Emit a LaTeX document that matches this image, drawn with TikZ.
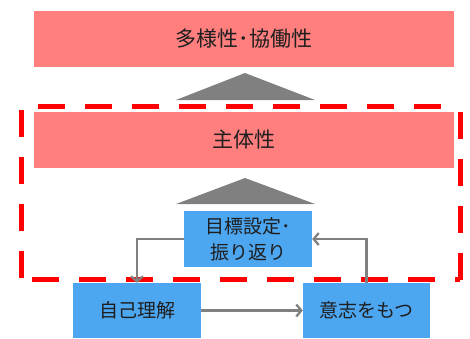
\documentclass[tikz,border=0pt]{standalone}
\usepackage{fontspec}
\setmainfont{Noto Sans CJK JP}
\usetikzlibrary{arrows.meta}
\definecolor{pinkred}{RGB}{255,127,127}
\definecolor{skyblue}{RGB}{77,166,240}
\definecolor{arrgrey}{RGB}{128,128,128}
\definecolor{txt}{RGB}{30,30,30}
\tikzset{
  redbox/.style={draw=none,fill=pinkred,minimum width=420pt,minimum height=56pt,inner sep=0pt,text=txt,font=\fontsize{21pt}{25pt}\selectfont},
  bluebox/.style={draw=none,fill=skyblue,minimum width=128pt,minimum height=55pt,inner sep=0pt,text=txt,align=center,font=\fontsize{19pt}{26pt}\selectfont},
  tri/.style={fill=arrgrey,draw=none},
  reddash/.style={draw=red,line width=5pt,dash pattern=on 27pt off 20pt},
  flow/.style={draw=arrgrey,line width=2.3pt,-{Straight Barb[length=5pt,width=12pt,line width=2.3pt]}}
}
\begin{document}
\begin{tikzpicture}[x=1pt,y=-1pt]
\useasboundingbox (0,0) rectangle (470,338);
\node[redbox] (top) at (244,39) {多様性･協働性};
\node[redbox] (mid) at (244,140) {主体性};
\fill[tri] (245,73) -- (315,100) -- (176,100) -- cycle;
\fill[tri] (245,178) -- (315,204) -- (176,204) -- cycle;
\node[bluebox,minimum height=56pt] (goal) at (248,239) {目標設定･\\振り返り};
\node[bluebox] (self) at (137,310.5) {自己理解};
\node[bluebox,minimum width=127pt] (will) at (366.5,310.5) {意志をもつ};
\draw[reddash,dash phase=30pt] (21,106) -- (460,106);
\draw[reddash,dash phase=43pt] (21,106) -- (21,279.5);
\draw[reddash,dash phase=36pt] (21,279.5) -- (460,279.5);
\draw[reddash,dash phase=41pt] (460,106) -- (460,279.5);
\draw[flow] (goal.west) -| (self.north);
\draw[flow] (self.east) -- (will.west);
\draw[flow] (will.north) |- (goal.east);
\end{tikzpicture}
\end{document}
